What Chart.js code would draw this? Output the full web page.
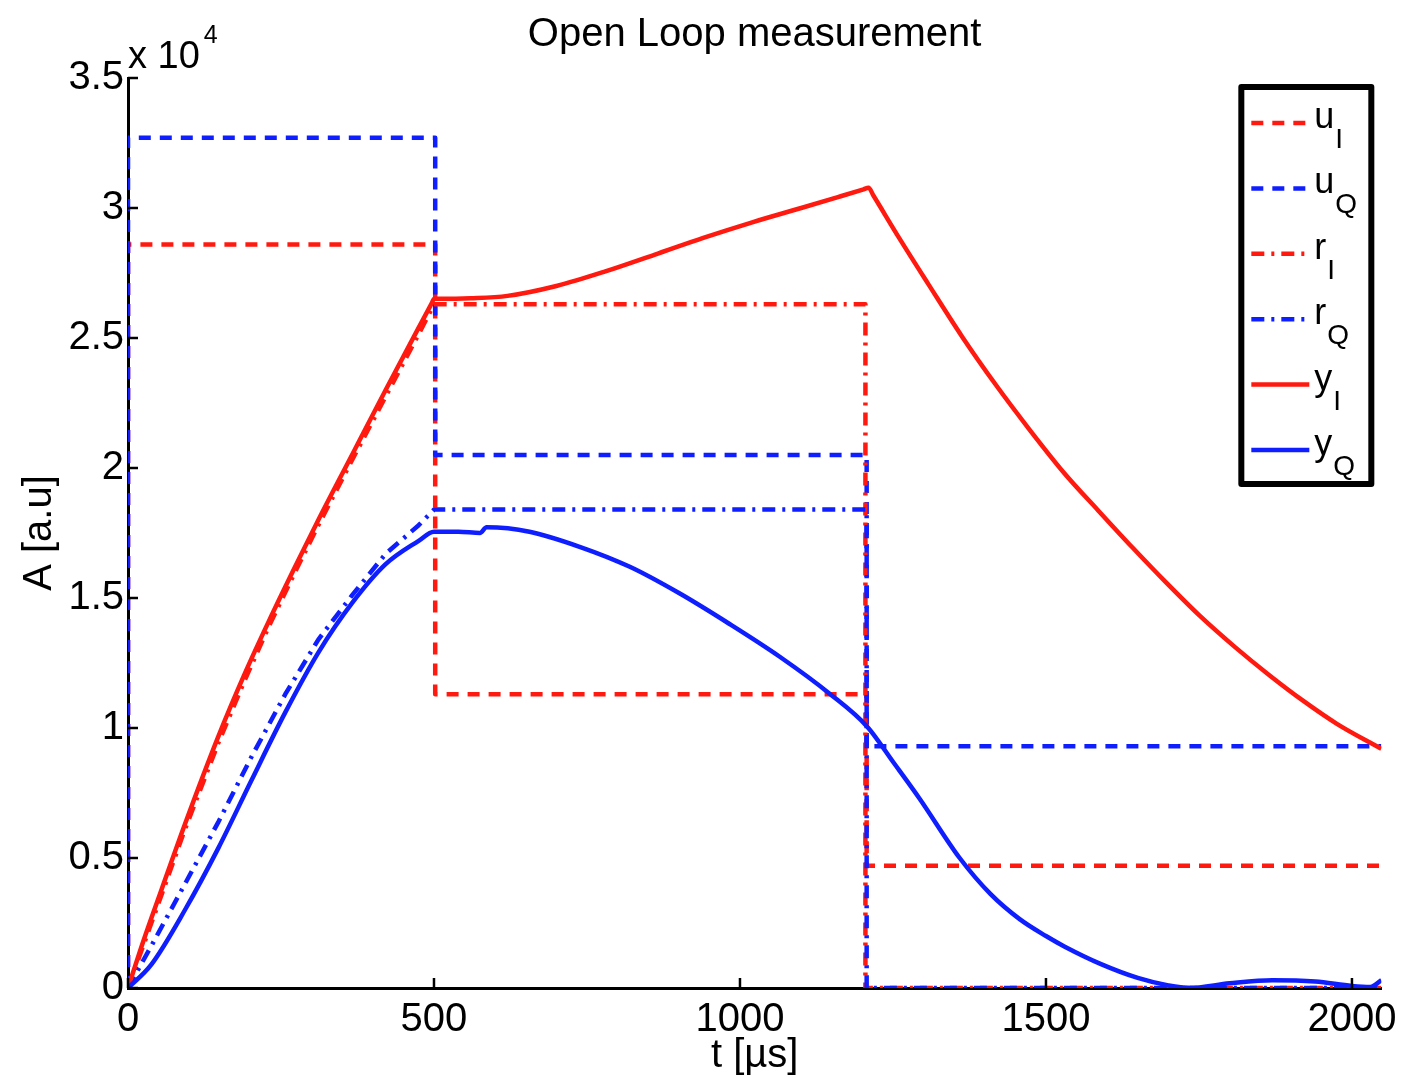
<!DOCTYPE html>
<html><head><meta charset="utf-8">
<script src="https://cdn.jsdelivr.net/npm/chart.js@4.4.1/dist/chart.umd.min.js"></script>
<style>html,body{margin:0;padding:0;background:#fff;}</style>
</head><body>
<canvas id="c" width="1405" height="1078"></canvas>
<script>
// ---- data (amplitude in raw a.u., time in µs) ----
const seriesBase = ['u', 'u', 'r', 'r', 'y', 'y'];
const seriesSub  = ['I', 'Q', 'I', 'Q', 'I', 'Q'];

const uI_t = [0, 0, 502, 502, 1207, 1207, 2048];
const uI_v = [0, 28600, 28600, 11300, 11300, 4700, 4700];

const uQ_t = [0, 0, 502, 502, 1207, 1207, 2048];
const uQ_v = [0, 32700, 32700, 20500, 20500, 9300, 9300];

const rI_t = [0, 55, 93, 148, 191, 230, 273, 311, 366, 421, 475, 500, 1205, 1205, 2048];
const rI_v = [0, 3600, 6100, 9450, 11850, 13900, 16000, 17800, 20300, 22750, 25150, 26300, 26300, 0, 0];

const rQ_t = [0, 40, 93, 148, 202, 257, 311, 366, 421, 475, 500, 1207, 1207, 2048];
const rQ_v = [0, 1700, 4000, 6400, 8900, 11300, 13400, 15100, 16700, 17800, 18400, 18400, 0, 0];

const yI_t = [0, 25, 55, 93, 148, 191, 230, 273, 311, 366, 421, 475, 496, 500,
              505, 560, 620, 700, 780, 860, 940, 1020, 1100, 1160, 1202, 1210, 1218,
              1260, 1307, 1363, 1418, 1474, 1530, 1586, 1641, 1697, 1752, 1808, 1864, 1920, 1976, 2048];
const yI_v = [0, 1800, 3800, 6300, 9700, 12100, 14100, 16200, 18000, 20500, 23000, 25400, 26320, 26500,
              26505, 26530, 26620, 27000, 27560, 28200, 28850, 29450, 30000, 30420, 30720, 30780, 30480,
              28850, 27100, 25050, 23200, 21450, 19800, 18350, 16950, 15580, 14300, 13130, 12050, 11050, 10150, 9200];

const yQ_t = [0, 38, 93, 148, 202, 257, 311, 366, 421, 475, 500,
              540, 575, 586, 656, 738, 820, 901, 983, 1065, 1146, 1208,
              1250, 1293, 1359, 1410, 1457, 1500, 1530, 1590, 1650, 1700, 1734, 1800, 1870, 1940, 2000, 2030, 2048];
const yQ_v = [0, 900, 3000, 5400, 8000, 10600, 12900, 14800, 16300, 17200, 17550,
              17550, 17500, 17720, 17550, 16970, 16200, 15180, 14000, 12740, 11330, 10050,
              8700, 7300, 5000, 3600, 2650, 2000, 1600, 920, 390, 100, 0, 180, 300, 250, 80, 40, 300];

const xTickValues = [0, 500, 1000, 1500, 2000];
const yTickValues = [0, 5000, 10000, 15000, 20000, 25000, 30000, 35000];
const yTickLabels = ['0', '0.5', '1', '1.5', '2', '2.5', '3', '3.5'];

const RED = 'rgb(255,25,15)';
const BLUE = 'rgb(15,30,255)';
const FONT = "'Liberation Sans', Arial, sans-serif";

const pts = (t, v) => t.map((tt, i) => ({x: tt, y: v[i]}));
const DASH = [12, 9];
const DASHDOT = [13, 7, 3, 7];

const datasets = [
  {label: 'uI', data: pts(uI_t, uI_v), borderColor: RED,  borderDash: DASH,    order: 5},
  {label: 'uQ', data: pts(uQ_t, uQ_v), borderColor: BLUE, borderDash: DASH,    order: 4},
  {label: 'rI', data: pts(rI_t, rI_v), borderColor: RED,  borderDash: DASHDOT, order: 3},
  {label: 'rQ', data: pts(rQ_t, rQ_v), borderColor: BLUE, borderDash: DASHDOT, order: 2},
  {label: 'yI', data: pts(yI_t, yI_v), borderColor: RED,  borderDash: [],      order: 1, cubicInterpolationMode: 'monotone'},
  {label: 'yQ', data: pts(yQ_t, yQ_v), borderColor: BLUE, borderDash: [],      order: 0, cubicInterpolationMode: 'monotone'}
].map(d => Object.assign({borderWidth: 4.5, pointRadius: 0, tension: 0, fill: false, borderCapStyle: 'butt', borderJoinStyle: 'round'}, d));

// inward tick marks
const inwardTicks = {
  id: 'inwardTicks',
  afterDraw(chart) {
    const {ctx, chartArea: a, scales: {x, y}} = chart;
    ctx.save();
    ctx.strokeStyle = '#000';
    ctx.lineWidth = 2.5;
    xTickValues.forEach(v => {
      const px = x.getPixelForValue(v);
      ctx.beginPath(); ctx.moveTo(px, a.bottom); ctx.lineTo(px, a.bottom - 10); ctx.stroke();
    });
    yTickValues.forEach(v => {
      const py = y.getPixelForValue(v);
      ctx.beginPath(); ctx.moveTo(a.left, py); ctx.lineTo(a.left + 10, py); ctx.stroke();
    });
    ctx.restore();
  }
};

// exponent label "x 10^4"
const exponentLabel = {
  id: 'exponentLabel',
  afterDraw(chart) {
    const {ctx, chartArea: a} = chart;
    ctx.save();
    ctx.fillStyle = '#000';
    ctx.textBaseline = 'alphabetic';
    ctx.textAlign = 'left';
    ctx.font = '38px ' + FONT;
    const base = 'x 10';
    ctx.fillText(base, a.left, a.top - 10);
    const w = ctx.measureText(base).width;
    ctx.font = '25px ' + FONT;
    ctx.fillText('4', a.left + w + 4, a.top - 35);
    ctx.restore();
  }
};

// MATLAB-style legend with subscripts
const matLegend = {
  id: 'matLegend',
  afterDraw(chart) {
    const {ctx, chartArea: a} = chart;
    const boxR = a.right - 10, boxT = a.top + 9, boxW = 130, boxH = 397;
    const boxL = boxR - boxW;
    ctx.save();
    ctx.fillStyle = '#fff';
    ctx.fillRect(boxL, boxT, boxW, boxH);
    ctx.strokeStyle = '#000';
    ctx.lineWidth = 6;
    ctx.lineJoin = 'round';
    ctx.strokeRect(boxL, boxT, boxW, boxH);
    chart.data.datasets.forEach((ds, i) => {
      const cy = boxT + 36 + i * 65.4;
      ctx.strokeStyle = ds.borderColor;
      ctx.lineWidth = 4.5;
      ctx.setLineDash(ds.borderDash || []);
      ctx.lineCap = 'butt';
      ctx.beginPath(); ctx.moveTo(boxL + 10, cy); ctx.lineTo(boxL + 68, cy); ctx.stroke();
      ctx.setLineDash([]);
      ctx.fillStyle = '#000';
      ctx.textAlign = 'left';
      ctx.textBaseline = 'alphabetic';
      ctx.font = '36px ' + FONT;
      const bx = boxL + 73;
      ctx.fillText(seriesBase[i], bx, cy + 5);
      const bw = ctx.measureText(seriesBase[i]).width;
      ctx.font = '28px ' + FONT;
      ctx.fillText(seriesSub[i], bx + bw + 1, cy + 25);
    });
    ctx.restore();
  }
};

new Chart(document.getElementById('c'), {
  type: 'line',
  data: {datasets},
  options: {
    responsive: false,
    animation: false,
    devicePixelRatio: 1,
    layout: {padding: {left: 0, right: 23, top: 0, bottom: 0}},
    plugins: {
      legend: {display: false},
      tooltip: {enabled: false},
      title: {
        display: true,
        text: 'Open Loop measurement',
        color: '#000',
        fullSize: false,
        font: {family: FONT, size: 40, weight: 'normal'},
        padding: {top: 11, bottom: 19}
      }
    },
    scales: {
      x: {
        type: 'linear',
        min: 0, max: 2048,
        afterBuildTicks: s => { s.ticks = xTickValues.map(v => ({value: v})); },
        afterFit: s => { s.height = 90; },
        ticks: {color: '#000', font: {family: FONT, size: 40}, padding: 8, maxRotation: 0, autoSkip: false,
                callback: v => String(v)},
        grid: {display: false, drawTicks: false},
        border: {display: true, color: '#000', width: 3},
        title: {display: true, text: 't [µs]', color: '#000', font: {family: FONT, size: 40}, padding: {top: 0, bottom: -2}}
      },
      y: {
        type: 'linear',
        min: 0, max: 35000,
        afterBuildTicks: s => { s.ticks = yTickValues.map(v => ({value: v})); },
        afterFit: s => { s.width = 128; },
        ticks: {color: '#000', font: {family: FONT, size: 40}, padding: 4, autoSkip: false,
                callback: v => yTickLabels[yTickValues.indexOf(v)]},
        grid: {display: false, drawTicks: false},
        border: {display: true, color: '#000', width: 3},
        title: {display: true, text: 'A [a.u]', color: '#000', font: {family: FONT, size: 40}, padding: {top: 16, bottom: 0}}
      }
    }
  },
  plugins: [inwardTicks, exponentLabel, matLegend]
});
</script>
</body></html>
